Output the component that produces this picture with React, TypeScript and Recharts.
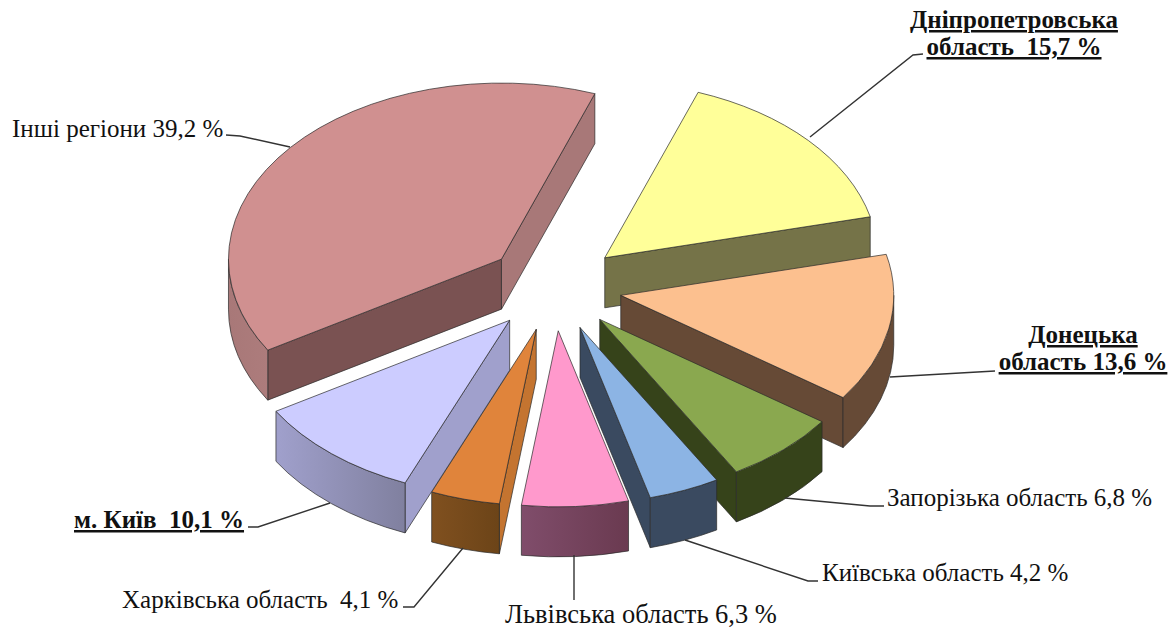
import * as React from "react";
import { PieChart, Pie } from "recharts";

const categories = [
    "Дніпропетровська область",
    "Донецька область",
    "Запорізька область",
    "Київська область",
    "Львівська область",
    "Харківська область",
    "м. Київ",
    "Інші регіони",
];
const values = [15.7, 13.6, 6.8, 4.2, 6.3, 4.1, 10.1, 39.2];

const topColors = ["#ffff99", "#fcc08f", "#8aa84f", "#8cb4e4", "#ff99cc", "#e0843b", "#ccccff", "#d09090"];
const startWallColors = ["#757348", "#664a36", "#36431a", "#3a4a60", "#66364f", "#c47430", "#a0a0cc", "#7a5252"];
const endWallColors = ["#757348", "#664a36", "#36431a", "#3a4a60", "#66364f", "#6c4418", "#80809f", "#a87878"];
const frontFromColors = ["#757348", "#664a36", "#36431a", "#3a4a60", "#804d6b", "#80501f", "#a0a0cc", "#a87878"];
const frontToColors = ["#757348", "#664a36", "#36431a", "#3a4a60", "#6a3a50", "#6c4418", "#80809f", "#ad7c7c"];

const tableData = categories.map((name, i) => ({ name, value: values[i] }));

const SQUASH = 0.645;
const DEPTH = 50;
const EXPLODE = 68;

const labelLayouts = [
    { lines: ["Дніпропетровська", "область  15,7 %"], x: 1014, y: 28, anchor: "middle", bold: true, size: 25, leader: "M923,54 L913,55 L810,137" },
    { lines: ["Донецька", "область 13,6 %"], x: 1083, y: 343, anchor: "middle", bold: true, size: 25, leader: "M995,371 L890,377" },
    { lines: ["Запорізька область 6,8 %"], x: 887, y: 506, anchor: "start", bold: false, size: 25, leader: "M884,506 L870,506 L785,498" },
    { lines: ["Київська область 4,2 %"], x: 822, y: 581, anchor: "start", bold: false, size: 25, leader: "M818,581 L808,581 L685,540" },
    { lines: ["Львівська область 6,3 %"], x: 505, y: 623, anchor: "start", bold: false, size: 26.5, leader: "M574,555 L574,600" },
    { lines: ["Харківська область  4,1 %"], x: 122, y: 608, anchor: "start", bold: false, size: 25, leader: "M403,607 L414,607 L463,548" },
    { lines: ["м. Київ  10,1 %"], x: 74, y: 528, anchor: "start", bold: true, size: 25, leader: "M248,527 L258,527 L330,503" },
    { lines: ["Інші регіони 39,2 %"], x: 12, y: 137, anchor: "start", bold: false, size: 25, leader: "M226,135 L240,136 L290,147" },
];

const rad = (deg: number) => (deg * Math.PI) / 180;

// draws one wedge as a squashed 3D slice from the angles the Pie hands over
const Slice3D = (props: any) => {
    const { cx, cy, outerRadius, startAngle, endAngle, name } = props;
    const i = categories.indexOf(name);
    const a1 = 90 - startAngle;
    const a2 = 90 - endAngle;
    const mid = (a1 + a2) / 2;
    const ax = cx + EXPLODE * Math.sin(rad(mid));
    const ay = cy - EXPLODE * SQUASH * Math.cos(rad(mid));
    const rx = outerRadius;
    const ry = outerRadius * SQUASH;
    const px = (a: number) => ax + rx * Math.sin(rad(a));
    const py = (a: number, down = 0) => ay - ry * Math.cos(rad(a)) + down;
    const large = a2 - a1 > 180 ? 1 : 0;

    const wall = (a: number) =>
        `M${ax},${ay} L${px(a)},${py(a)} L${px(a)},${py(a, DEPTH)} L${ax},${ay + DEPTH} Z`;

    // only the part of the rim between 3 and 9 o'clock faces the viewer
    const fronts: string[] = [];
    [[90, 270], [450, 630]].forEach(([lo, hi]) => {
        const f1 = Math.max(a1, lo);
        const f2 = Math.min(a2, hi);
        if (f2 > f1) {
            fronts.push(
                `M${px(f1)},${py(f1)} A${rx},${ry} 0 0 1 ${px(f2)},${py(f2)} ` +
                `L${px(f2)},${py(f2, DEPTH)} A${rx},${ry} 0 0 0 ${px(f1)},${py(f1, DEPTH)} Z`
            );
        }
    });

    const norm = (a: number) => ((a % 360) + 360) % 360;
    const showStart = norm(a1) > 180;
    const showEnd = norm(a2) < 180;
    const gradId = `front-${i}`;
    const edge = { stroke: "#2a2a2a", strokeWidth: 0.7, strokeLinejoin: "round" as const };

    return (
        <g>
            <defs>
                <linearGradient id={gradId} x1="0" y1="0" x2="1" y2="0">
                    <stop offset="0%" stopColor={frontFromColors[i]} />
                    <stop offset="100%" stopColor={frontToColors[i]} />
                </linearGradient>
            </defs>
            {showStart && <path d={wall(a1)} fill={startWallColors[i]} {...edge} />}
            {showEnd && <path d={wall(a2)} fill={endWallColors[i]} {...edge} />}
            {fronts.map((d) => <path key={d} d={d} fill={`url(#${gradId})`} {...edge} />)}
            <path
                d={`M${ax},${ay} L${px(a1)},${py(a1)} A${rx},${ry} 0 ${large} 1 ${px(a2)},${py(a2)} Z`}
                fill={topColors[i]}
                {...edge}
            />
        </g>
    );
};

const renderLabel = (props: any) => {
    const layout = labelLayouts[props.index];
    return (
        <g key={layout.lines[0]}>
            <path d={layout.leader} fill="none" stroke="#333" strokeWidth={1.4} />
            {layout.lines.map((line, j) => (
                <text
                    key={line}
                    x={layout.x}
                    y={layout.y + j * 27}
                    textAnchor={layout.anchor as any}
                    fill="#111"
                    fontFamily="'Liberation Serif', serif"
                    fontSize={layout.size}
                    fontWeight={layout.bold ? "bold" : "normal"}
                    textDecoration={layout.bold ? "underline" : "none"}
                    style={{ whiteSpace: "pre" }}
                >
                    {line}
                </text>
            ))}
        </g>
    );
};

export default function App() {
    return (
        <div style={{ position: "absolute", left: 0, top: 0, background: "#fff" }}>
            <PieChart width={1176} height={629} margin={{ top: 0, right: 0, bottom: 0, left: 0 }}>
                <Pie
                    data={tableData}
                    dataKey="value"
                    nameKey="name"
                    cx={554}
                    cy={287}
                    innerRadius={0}
                    outerRadius={273}
                    startAngle={70}
                    endAngle={-290}
                    paddingAngle={0}
                    shape={Slice3D}
                    label={renderLabel}
                    labelLine={false}
                    isAnimationActive={false}
                />
            </PieChart>
        </div>
    );
}
